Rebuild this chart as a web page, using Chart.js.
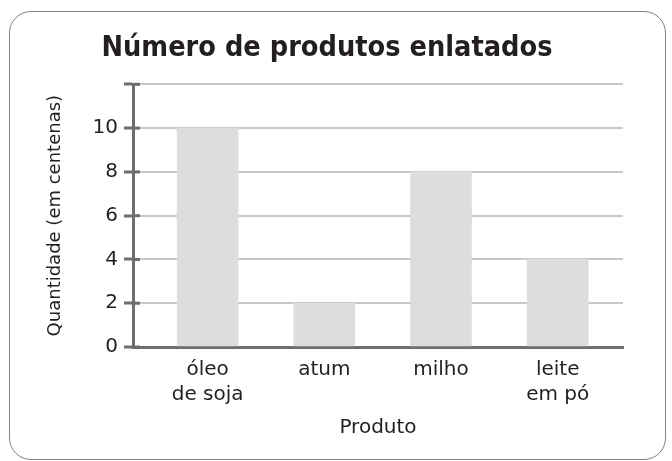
<!DOCTYPE html>
<html lang="pt">
<head>
<meta charset="utf-8">
<title>Número de produtos enlatados</title>
<script src="https://cdn.jsdelivr.net/npm/chart.js@4.4.1/dist/chart.umd.min.js"></script>
<style>
    html, body {
        margin: 0;
        padding: 0;
        background: #ffffff;
    }
    #wrap {
        position: relative;
        width: 672px;
        height: 461px;
        overflow: hidden;
    }
    #frame {
        position: absolute;
        left: 9px;
        top: 11px;
        width: 657px;
        height: 449px;
        box-sizing: border-box;
        border: 1.5px solid #808184;
        border-radius: 22px;
    }
    #products-chart {
        position: absolute;
        left: 0;
        top: 0;
    }
</style>
</head>
<body>
<div id="wrap">
    <div id="frame"></div>
    <canvas id="products-chart" width="672" height="461"></canvas>
</div>
<script>
// Chart data
const chartTitle = 'Número de produtos enlatados';
const categories = ['óleo de soja', 'atum', 'milho', 'leite em pó'];
const tickLabels = [['óleo', 'de soja'], 'atum', 'milho', ['leite', 'em pó']];
const quantities = [10, 2, 8, 4];
const yMax = 12;
const yStep = 2;
const xTitle = 'Produto';
const yTitle = 'Quantidade (em centenas)';

// Colours
const axisColor = '#6d6e71';
const gridColor = '#c7c8ca';
const barColor = '#dcdddf';
const textColor = '#231f20';

// Draw the inner half of each y tick across the axis line
const innerTicks = {
    id: 'innerTicks',
    afterDatasetsDraw(chart) {
        const ctx = chart.ctx;
        const yScale = chart.scales.y;
        const left = chart.chartArea.left;

        ctx.save();
        ctx.strokeStyle = axisColor;
        ctx.lineWidth = 3;
        yScale.ticks.forEach(function(tick) {
            const y = yScale.getPixelForValue(tick.value);
            ctx.beginPath();
            ctx.moveTo(left, y);
            ctx.lineTo(left + 7, y);
            ctx.stroke();
        });
        ctx.restore();
    }
};

// Initialize chart
function initializeChart() {
    const ctx = document.getElementById('products-chart').getContext('2d');

    return new Chart(ctx, {
        type: 'bar',
        data: {
            labels: categories,
            datasets: [{
                label: 'Quantidade',
                data: quantities.map(function(value, i) {
                    return { x: i, y: value };
                }),
                backgroundColor: barColor,
                borderWidth: 0,
                barThickness: 61
            }]
        },
        options: {
            responsive: false,
            animation: false,
            devicePixelRatio: 1,
            layout: {
                padding: { left: 10, right: 28, top: 0, bottom: 0 }
            },
            plugins: {
                legend: { display: false },
                tooltip: { enabled: false },
                title: {
                    display: true,
                    text: chartTitle,
                    color: textColor,
                    font: { family: '"DejaVu Sans Condensed", "DejaVu Sans", sans-serif', size: 28.6, weight: 'bold', lineHeight: 1.2 },
                    padding: { top: 31, bottom: 19 }
                }
            },
            scales: {
                x: {
                    type: 'linear',
                    min: -0.64,
                    max: 3.56,
                    offset: false,
                    z: 1,
                    grid: { display: false, offset: false },
                    border: { display: true, color: axisColor, width: 3 },
                    afterBuildTicks: function(scale) {
                        scale.ticks = categories.map(function(c, i) {
                            return { value: i };
                        });
                    },
                    afterFit: function(scale) {
                        scale.height = 114;
                    },
                    ticks: {
                        autoSkip: false,
                        maxRotation: 0,
                        padding: 2,
                        color: textColor,
                        font: { family: '"DejaVu Sans", sans-serif', size: 20, lineHeight: 1.25 },
                        callback: function(value) {
                            return tickLabels[value];
                        }
                    },
                    title: {
                        display: true,
                        text: xTitle,
                        color: textColor,
                        font: { family: '"DejaVu Sans", sans-serif', size: 20, lineHeight: 1.2 },
                        padding: { top: 0, bottom: 21 }
                    }
                },
                y: {
                    min: 0,
                    max: yMax,
                    grid: {
                        color: gridColor,
                        lineWidth: 2,
                        tickColor: axisColor,
                        tickWidth: 3,
                        tickLength: 9
                    },
                    border: { display: true, color: axisColor, width: 3 },
                    afterFit: function(scale) {
                        scale.width = 123;
                    },
                    ticks: {
                        stepSize: yStep,
                        padding: 6,
                        color: textColor,
                        font: { family: '"DejaVu Sans", sans-serif', size: 20 },
                        callback: function(value) {
                            return value === yMax ? '' : value;
                        }
                    },
                    title: {
                        display: true,
                        text: yTitle,
                        color: textColor,
                        font: { family: '"DejaVu Sans", sans-serif', size: 18, lineHeight: 1.2 },
                        padding: { top: 35, bottom: 0 }
                    }
                },
                // Empty right axis, only keeps the plot clear of the frame
                pad: {
                    type: 'linear',
                    position: 'right',
                    display: true,
                    grid: { display: false },
                    border: { display: false },
                    ticks: { display: false },
                    afterFit: function(scale) {
                        scale.width = 21;
                    }
                }
            }
        },
        plugins: [innerTicks]
    });
}

initializeChart();
</script>
</body>
</html>
